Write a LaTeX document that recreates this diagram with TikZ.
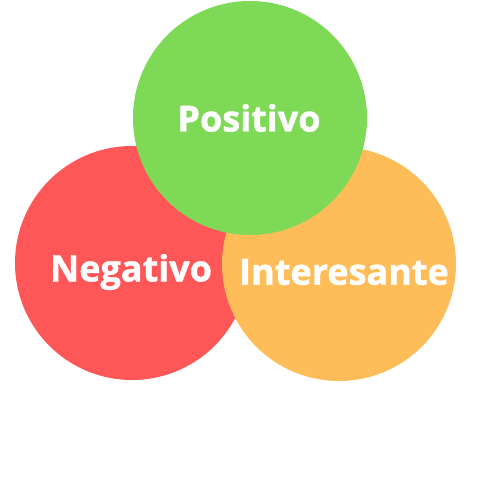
\documentclass[tikz,border=0pt]{standalone}
\usepackage{fontspec}
\setmainfont{Open Sans}[BoldFeatures={FakeBold=1.2}]
\definecolor{cgreen}{HTML}{7ED957}
\definecolor{cred}{HTML}{FF5757}
\definecolor{corange}{HTML}{FFBD59}
\begin{document}
\begin{tikzpicture}[x=1pt,y=1pt,
  circ/.style={circle,minimum size=234pt,inner sep=0pt},
  lbl/.style={text=white,font=\fontsize{36}{40}\selectfont\bfseries,inner sep=0pt}]
\useasboundingbox (0,0) rectangle (500,500);
\fill[white] (0,0) rectangle (500,500);
\node[circ,fill=cred] (neg) at (132,237) {};
\node[circ,fill=corange] (int) at (339,236) {};
\node[circ,fill=cgreen] (pos) at (250,382) {};
\node[lbl] (tneg) at (131,228) {Negativo};
\node[lbl] (tint) at (344,228) {Interesante};
\node[lbl] (tpos) at (249,382) {Positivo};
\end{tikzpicture}
\end{document}
